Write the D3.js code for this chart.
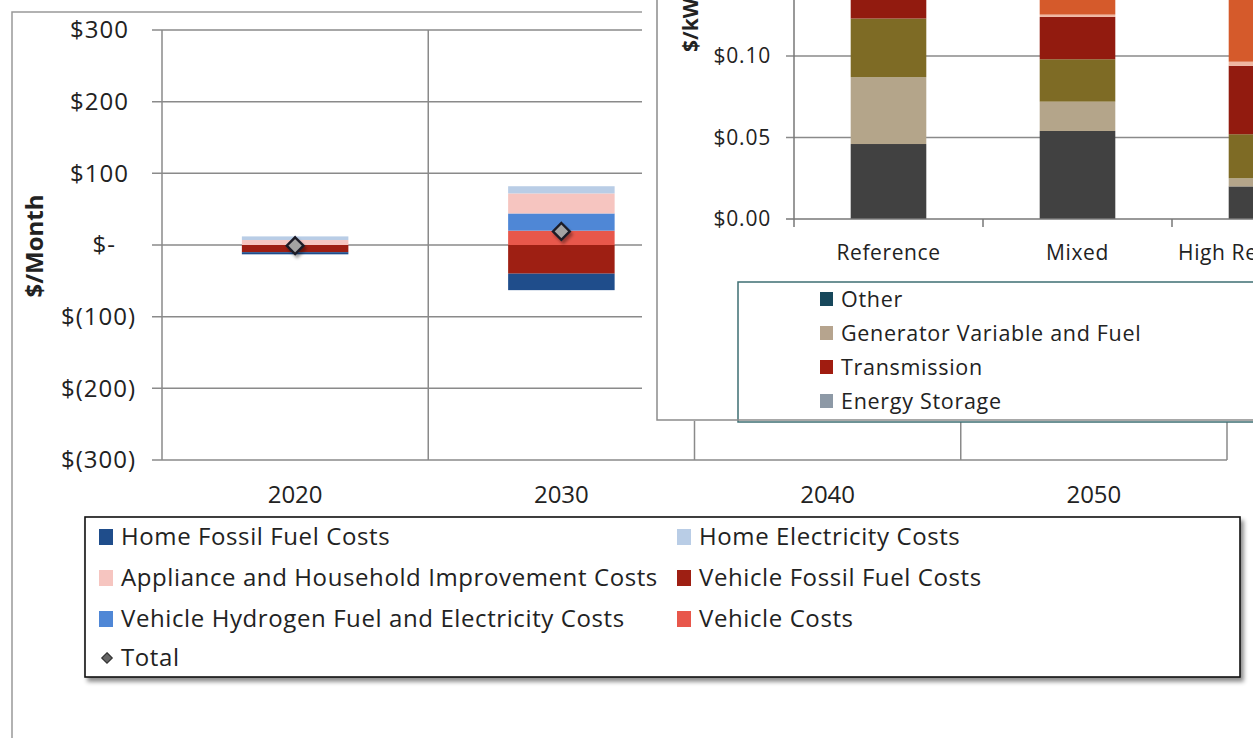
<!DOCTYPE html>
<html>
<head>
<meta charset="utf-8">
<script src="https://cdn.jsdelivr.net/npm/d3@7"></script>
<style>
  html, body { margin: 0; padding: 0; background: #fff; }
  svg { display: block; font-family: "Open Sans", sans-serif; }
</style>
</head>
<body>
<svg id="chart" width="1253" height="738"></svg>
<script>
// ---- Household monthly cost change ($/month) ----
const years = ["2020", "2030", "2040", "2050"];
const barYears = ["2020", "2030"];
const homeFossilFuelCosts = [-3, -23];
const homeElectricityCosts = [5, 10];
const applianceCosts = [7, 28];
const vehicleFossilFuelCosts = [-10, -40];
const vehicleHydrogenElecCosts = [0, 24];
const vehicleCosts = [0, 20];
const totalCosts = [-1, 19];
const monthTicks = [-300, -200, -100, 0, 100, 200, 300];

// ---- Electricity system cost by scenario ($/kWh) ----
const scenarios = ["Reference", "Mixed", "High Renewables"];
const genCapital = [0.046, 0.054, 0.020];
const genVariableFuel = [0.041, 0.018, 0.005];
const genFixedOM = [0.036, 0.026, 0.027];
const transmissionCost = [0.030, 0.026, 0.042];
const storageCost = [0.000, 0.0014, 0.0025];
const distributionCost = [0.030, 0.030, 0.060];
const kwhTicks = [0, 0.05, 0.10, 0.15];

const svg = d3.select("#chart");
const textColor = "#222";
const gridColor = "#8a8a8a";

// shadows
const defs = svg.append("defs");
const sh = defs.append("filter").attr("id", "shadow").attr("x", "-10%").attr("y", "-10%").attr("width", "130%").attr("height", "140%");
sh.append("feDropShadow").attr("dx", 3).attr("dy", 4).attr("stdDeviation", 2).attr("flood-color", "#000").attr("flood-opacity", 0.45);
const msh = defs.append("filter").attr("id", "markShadow").attr("x", "-50%").attr("y", "-50%").attr("width", "200%").attr("height", "200%");
msh.append("feDropShadow").attr("dx", 2).attr("dy", 3).attr("stdDeviation", 1.5).attr("flood-color", "#000").attr("flood-opacity", 0.35);

// ================= Main chart =================
// outer frame
svg.append("path").attr("d", "M12,738 L12,12 L642,12")
  .attr("fill", "none").attr("stroke", "#999").attr("stroke-width", 1.5);

const x = d3.scaleBand().domain(years).range([162, 1227]).padding(0);
const y = d3.scaleLinear().domain([-300, 300]).range([460, 30]);

const main = svg.append("g");

// horizontal gridlines with left tick stubs
main.selectAll("line.hgrid").data(monthTicks).join("line")
  .attr("class", "hgrid")
  .attr("x1", 152).attr("x2", x.range()[1])
  .attr("y1", d => y(d)).attr("y2", d => y(d))
  .attr("stroke", gridColor).attr("stroke-width", 1.5);

// vertical category separators
main.selectAll("line.vgrid").data(years.concat(["end"])).join("line")
  .attr("class", "vgrid")
  .attr("x1", (d, i) => x.range()[0] + i * x.bandwidth())
  .attr("x2", (d, i) => x.range()[0] + i * x.bandwidth())
  .attr("y1", y(300)).attr("y2", y(-300))
  .attr("stroke", gridColor).attr("stroke-width", 1.5);

// y tick labels in accounting style
const fmtMoney = v => v > 0 ? "$" + v : (v === 0 ? "$-" : "$(" + (-v) + ")");
main.selectAll("text.ytick").data(monthTicks).join("text")
  .attr("class", "ytick")
  .attr("x", 136)
  .attr("dx", d => d > 0 ? -7 : (d === 0 ? -20 : 0))
  .attr("y", d => y(d)).attr("dy", "0.35em")
  .attr("text-anchor", "end")
  .attr("font-size", 24).attr("letter-spacing", 1).attr("fill", textColor)
  .text(fmtMoney);

// x labels
main.selectAll("text.xlab").data(years).join("text")
  .attr("class", "xlab")
  .attr("x", d => x(d) + x.bandwidth() / 2)
  .attr("y", 495).attr("dy", "0.35em")
  .attr("text-anchor", "middle")
  .attr("font-size", 24).attr("fill", textColor)
  .text(d => d);

// y axis title
main.append("text")
  .attr("transform", "translate(43,246) rotate(-90)")
  .attr("text-anchor", "middle")
  .attr("font-size", 24).attr("font-weight", "bold").attr("fill", textColor)
  .text("$/Month");

// stacked bars
const seriesInfo = [
  { key: "vehicleCosts", values: vehicleCosts, color: "#e8574b" },
  { key: "vehicleHydrogen", values: vehicleHydrogenElecCosts, color: "#4f87d6" },
  { key: "vehicleFossil", values: vehicleFossilFuelCosts, color: "#9e1f13" },
  { key: "appliance", values: applianceCosts, color: "#f6c5c0" },
  { key: "homeElectricity", values: homeElectricityCosts, color: "#b9cde6" },
  { key: "homeFossil", values: homeFossilFuelCosts, color: "#1f4d8b" }
];
const rows = barYears.map((yr, i) => {
  const r = { year: yr };
  seriesInfo.forEach(s => r[s.key] = s.values[i]);
  return r;
});
const stacked = d3.stack().keys(seriesInfo.map(s => s.key)).offset(d3.stackOffsetDiverging)(rows);
const barW = x.bandwidth() * 0.4;
main.append("g").selectAll("g").data(stacked).join("g")
  .attr("fill", (d, i) => seriesInfo[i].color)
  .selectAll("rect").data(d => d).join("rect")
  .attr("x", d => x(d.data.year) + x.bandwidth() / 2 - barW / 2)
  .attr("width", barW)
  .attr("y", d => y(Math.max(d[0], d[1])))
  .attr("height", d => Math.abs(y(d[0]) - y(d[1])));

// total markers
const diamond = d3.symbol().type(d3.symbolDiamond2).size(180);
main.selectAll("path.total").data(barYears).join("path")
  .attr("class", "total")
  .attr("transform", (d, i) => `translate(${x(d) + x.bandwidth() / 2},${y(totalCosts[i])})`)
  .attr("d", diamond)
  .attr("fill", "#a3a3a3").attr("stroke", "#1c1c28").attr("stroke-width", 2.4)
  .attr("filter", "url(#markShadow)");

// legend
const legendItems = [
  { label: "Home Fossil Fuel Costs", color: "#1f4d8b", col: 0, row: 0 },
  { label: "Home Electricity Costs", color: "#b9cde6", col: 1, row: 0 },
  { label: "Appliance and Household Improvement Costs", color: "#f6c5c0", col: 0, row: 1 },
  { label: "Vehicle Fossil Fuel Costs", color: "#9e1f13", col: 1, row: 1 },
  { label: "Vehicle Hydrogen Fuel and Electricity Costs", color: "#4f87d6", col: 0, row: 2 },
  { label: "Vehicle Costs", color: "#e8574b", col: 1, row: 2 },
  { label: "Total", color: null, col: 0, row: 3 }
];
const lg = svg.append("g");
lg.append("rect").attr("x", 85).attr("y", 517).attr("width", 1155).attr("height", 160)
  .attr("fill", "#fff").attr("stroke", "#111").attr("stroke-width", 1.6)
  .attr("filter", "url(#shadow)");
const colX = [99, 677];
const rowY = [537, 578, 619, 658];
const li = lg.selectAll("g.item").data(legendItems).join("g").attr("class", "item")
  .attr("transform", d => `translate(${colX[d.col]},${rowY[d.row]})`);
li.filter(d => d.color).append("rect")
  .attr("x", 0).attr("y", -8).attr("width", 14).attr("height", 16)
  .attr("fill", d => d.color);
li.filter(d => !d.color).append("path")
  .attr("transform", "translate(8,0)")
  .attr("d", d3.symbol().type(d3.symbolDiamond2).size(70))
  .attr("fill", "#666").attr("stroke", "#333").attr("stroke-width", 1.2);
li.append("text").attr("x", 22).attr("y", 0).attr("dy", "0.35em")
  .attr("font-size", 24).attr("letter-spacing", 0.6).attr("fill", textColor)
  .text(d => d.label);

// ================= Scenario cost chart =================
const inset = svg.append("g");
inset.append("rect").attr("x", 642).attr("y", 0).attr("width", 611).attr("height", 421).attr("fill", "#fff");

const ix = d3.scaleBand().domain(scenarios).range([794, 794 + 189 * scenarios.length]).padding(0);
const iy = d3.scaleLinear().domain([0, 0.15]).range([219, 219 - 244.5]);

// gridlines
inset.selectAll("line.igrid").data(kwhTicks.filter(d => d > 0)).join("line")
  .attr("class", "igrid")
  .attr("x1", 786).attr("x2", 1253)
  .attr("y1", d => iy(d)).attr("y2", d => iy(d))
  .attr("stroke", gridColor).attr("stroke-width", 1.5);

// stacked bars
const costSeries = [
  { key: "capital", values: genCapital, color: "#414141" },
  { key: "variable", values: genVariableFuel, color: "#b4a58a" },
  { key: "fixed", values: genFixedOM, color: "#7e6b25" },
  { key: "transmission", values: transmissionCost, color: "#921b0f" },
  { key: "storage", values: storageCost, color: "#efb6a0" },
  { key: "distribution", values: distributionCost, color: "#d55a2b" }
];
const costRows = scenarios.map((s, i) => {
  const r = { scenario: s };
  costSeries.forEach(c => r[c.key] = c.values[i]);
  return r;
});
const costStack = d3.stack().keys(costSeries.map(c => c.key))(costRows);
const ibarW = ix.bandwidth() * 0.4;
inset.append("g").selectAll("g").data(costStack).join("g")
  .attr("fill", (d, i) => costSeries[i].color)
  .selectAll("rect").data(d => d).join("rect")
  .attr("x", d => ix(d.data.scenario) + ix.bandwidth() / 2 - ibarW / 2)
  .attr("width", ibarW)
  .attr("y", d => iy(d[1]))
  .attr("height", d => iy(d[0]) - iy(d[1]));

// axes
inset.append("line").attr("x1", 786).attr("x2", 1253).attr("y1", iy(0)).attr("y2", iy(0))
  .attr("stroke", "#777").attr("stroke-width", 1.5);
inset.append("line").attr("x1", 794).attr("x2", 794).attr("y1", 0).attr("y2", iy(0))
  .attr("stroke", "#777").attr("stroke-width", 1.5);
inset.selectAll("line.ixtick").data(d3.range(scenarios.length + 1)).join("line")
  .attr("class", "ixtick")
  .attr("x1", i => ix.range()[0] + i * ix.bandwidth())
  .attr("x2", i => ix.range()[0] + i * ix.bandwidth())
  .attr("y1", iy(0)).attr("y2", iy(0) + 8)
  .attr("stroke", "#777").attr("stroke-width", 1.5);

inset.selectAll("text.iytick").data(kwhTicks).join("text")
  .attr("class", "iytick")
  .attr("x", 771).attr("y", d => iy(d)).attr("dy", "0.35em")
  .attr("text-anchor", "end").attr("font-size", 21).attr("letter-spacing", 0.8).attr("fill", textColor)
  .text(d => "$" + d.toFixed(2));

inset.selectAll("text.ixlab").data(scenarios).join("text")
  .attr("class", "ixlab")
  .attr("x", d => ix(d) + ix.bandwidth() / 2)
  .attr("y", 253).attr("dy", "0.35em")
  .attr("text-anchor", "middle").attr("font-size", 21).attr("letter-spacing", 0.6).attr("fill", textColor)
  .text(d => d);

inset.append("text")
  .attr("transform", "translate(698,52) rotate(-90)")
  .attr("text-anchor", "start")
  .attr("font-size", 21).attr("font-weight", "bold").attr("fill", textColor)
  .text("$/kWh");

// legend
const costLegend = [
  { label: "Other", color: "#17475b" },
  { label: "Generator Variable and Fuel", color: "#b6a48e" },
  { label: "Transmission", color: "#a01c10" },
  { label: "Energy Storage", color: "#8d99a6" }
];
inset.append("rect").attr("x", 738).attr("y", 282).attr("width", 600).attr("height", 140)
  .attr("fill", "#fff").attr("stroke", "#3e6f73").attr("stroke-width", 1.5);
const cl = inset.selectAll("g.cl").data(costLegend).join("g").attr("class", "cl")
  .attr("transform", (d, i) => `translate(820,${299 + i * 34})`);
cl.append("rect").attr("x", 0).attr("y", -7).attr("width", 13).attr("height", 14).attr("fill", d => d.color);
cl.append("text").attr("x", 21).attr("dy", "0.35em").attr("font-size", 21.5).attr("letter-spacing", 0.7)
  .attr("fill", textColor).text(d => d.label);

// frame of the scenario chart
inset.append("path").attr("d", "M657,0 L657,420 L1253,420")
  .attr("fill", "none").attr("stroke", "#8c8c8c").attr("stroke-width", 1.5);
</script>
</body>
</html>
